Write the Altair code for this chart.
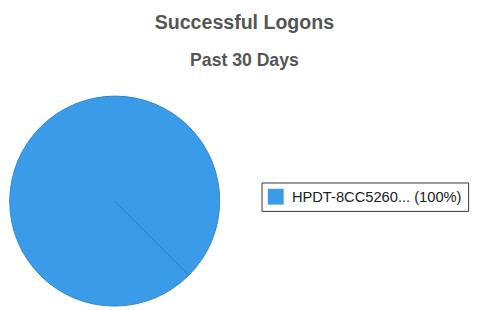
import altair as alt
import pandas as pd

hosts = ["HPDT-8CC5260..."]
logons = [100]
labels = ["HPDT-8CC5260... (100%)"]

df = pd.DataFrame({"host": hosts, "logons": logons, "label": labels})

start = 3.14159265 * 0.75
chart = alt.Chart(df).mark_arc(
    x=107, y=128, outerRadius=107, stroke="#2f86cf", strokeWidth=1
).encode(
    theta=alt.Theta("logons:Q", stack=True, scale=alt.Scale(range=[start, start + 2 * 3.14159265])),
    color=alt.Color(
        "label:N",
        scale=alt.Scale(range=["#3a9be8"]),
        legend=alt.Legend(
            title=None, orient="none", legendX=257, legendY=109,
            symbolType="square", symbolSize=260, symbolStrokeWidth=0,
            labelFont="Liberation Sans", labelFontSize=15, labelColor="#222",
            labelLimit=400, strokeColor="#333", padding=6, labelOffset=8,
        ),
    ),
).properties(
    width=473, height=214,
    title=alt.TitleParams(
        "Successful Logons", subtitle="Past 30 Days",
        font="Liberation Sans", fontSize=20, fontWeight="bold", color="#555",
        subtitleFont="Liberation Sans", subtitleFontSize=18, subtitleFontWeight="bold",
        subtitleColor="#555", subtitlePadding=20, anchor="middle", dx=3, offset=6,
    ),
    padding={"top": 2, "left": 0, "right": 0, "bottom": 0},
).configure_view(stroke=None)

chart.save("out.html", embed_options={"renderer": "svg", "actions": False})
